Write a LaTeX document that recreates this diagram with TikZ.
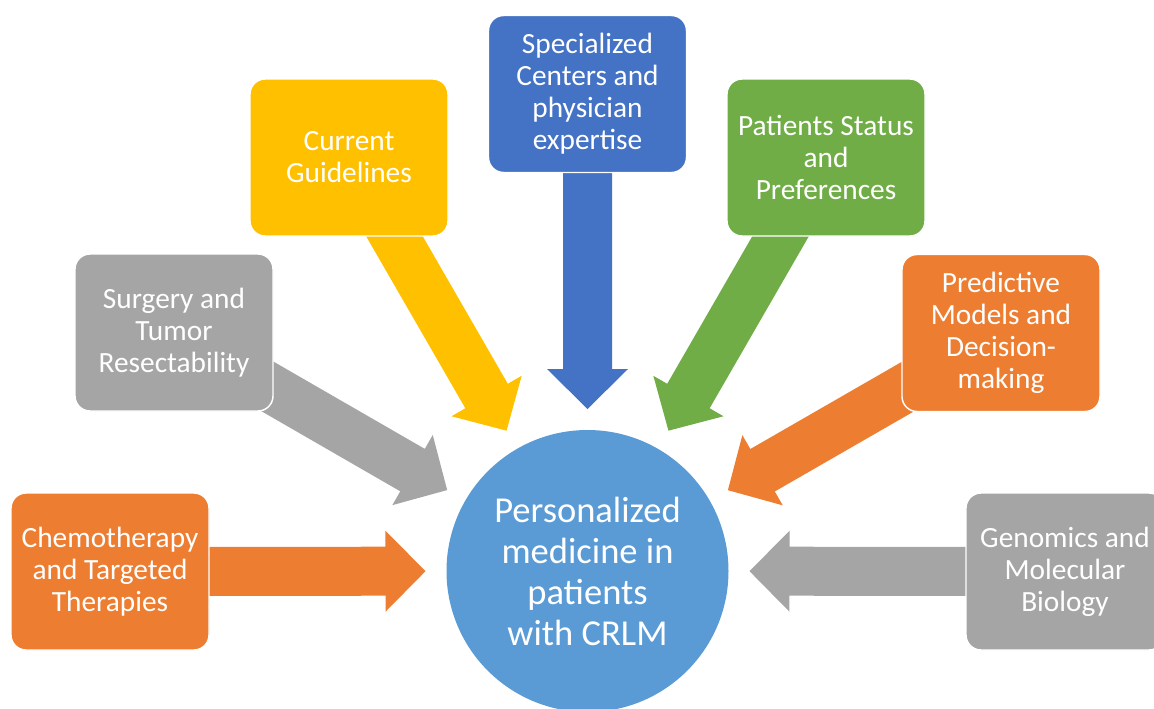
\documentclass[tikz,border=0pt]{standalone}
\usepackage{fontspec}
\setmainfont{Carlito}
\usetikzlibrary{calc,backgrounds}
\definecolor{corange}{HTML}{ED7D31}
\definecolor{cgray}{HTML}{A5A5A5}
\definecolor{cyellow}{HTML}{FFC000}
\definecolor{cblue}{HTML}{4472C4}
\definecolor{cgreen}{HTML}{70AD47}
\definecolor{chub}{HTML}{5B9BD5}
\tikzset{
  box/.style={rectangle, rounded corners=11.25pt, minimum width=148.5pt, minimum height=117.75pt,
    draw=white, line width=1.1pt, text=white, align=center, inner sep=0pt,
    font=\fontsize{22}{24}\selectfont},
  hub/.style={circle, minimum size=211.5pt, fill=chub, text=white, align=center, inner sep=0pt,
    font=\fontsize{27.4}{30.75}\selectfont},
}
\newcommand\blockarrow[3]{%
  \coordinate (#2-tip) at ($(#3.center)!121.5pt!(#2.center)$);
  \coordinate (#2-base) at ($(#2-tip)!30pt!(#2.center)$);
  \fill[#1] ($(#2.center)!18.375pt!-90:(#2-base)$) -- ($(#2-base)!18.375pt!90:(#2.center)$)
    -- ($(#2-base)!30.375pt!90:(#2.center)$) -- (#2-tip)
    -- ($(#2-base)!30.375pt!-90:(#2.center)$) -- ($(#2-base)!18.375pt!-90:(#2.center)$)
    -- ($(#2.center)!18.375pt!90:(#2-base)$) -- cycle;
}
\begin{document}
\begin{tikzpicture}[x=0.75pt,y=-0.75pt]
\useasboundingbox (0,0) rectangle (1154,708);
\clip (0,0) rectangle (1154,708);
\node[hub] (hub) at (587.5,571) {Personalized\\medicine in\\patients\\with CRLM};
\node[box, fill=corange] (chemo) at (110,571.5) {Chemotherapy\\and Targeted\\Therapies};
\node[box, fill=cgray] (surg) at (174,332.5) {Surgery and\\Tumor\\Resectability};
\node[box, fill=cyellow] (guide) at (349,157.5) {Current\\Guidelines};
\node[box, fill=cblue] (spec) at (587.5,94) {Specialized\\Centers and\\physician\\expertise};
\node[box, fill=cgreen] (stat) at (826,157.5) {Patients Status\\and\\Preferences};
\node[box, fill=corange] (pred) at (1001,333) {Predictive\\Models and\\Decision-\\making};
\node[box, fill=cgray] (geno) at (1065,571.5) {Genomics and\\Molecular\\Biology};
\begin{pgfonlayer}{background}
\blockarrow{corange}{chemo}{hub}
\blockarrow{cgray}{surg}{hub}
\blockarrow{cyellow}{guide}{hub}
\blockarrow{cblue}{spec}{hub}
\blockarrow{cgreen}{stat}{hub}
\blockarrow{corange}{pred}{hub}
\blockarrow{cgray}{geno}{hub}
\end{pgfonlayer}
\end{tikzpicture}
\end{document}
